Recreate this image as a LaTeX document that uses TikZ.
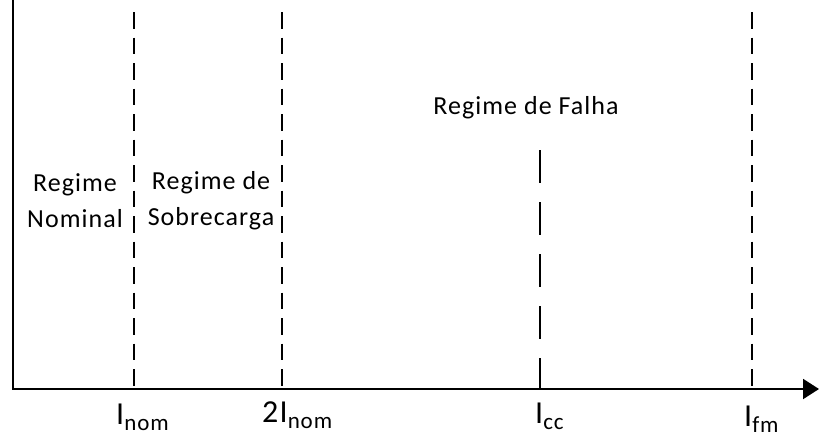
\documentclass[tikz,border=0pt]{standalone}
\usepackage{fontspec}
\setmainfont{Carlito}[LetterSpace=4]
\usetikzlibrary{arrows.meta}
\tikzset{
  eixo/.style={line width=2pt},
  limite/.style={line width=2pt,dash pattern=on 16.5pt off 9pt},
  limitecc/.style={line width=2pt,dash pattern=on 33pt off 19pt},
  regime/.style={align=center,inner sep=0pt,font=\fontsize{26}{36}\selectfont},
  corrente/.style={anchor=base west,inner sep=0pt,font=\fontsize{32}{32}\selectfont}
}
\newcommand{\corr}[2]{#1\raisebox{-6pt}{\fontsize{23}{23}\selectfont #2}}

\begin{document}
\begin{tikzpicture}[x=1pt,y=-1pt]
  \useasboundingbox (0,0) rectangle (819,437);
  % eixos
  \coordinate (Topo) at (13,0);
  \coordinate (Origem) at (13,389);
  \coordinate (Fim) at (819,389);
  \draw[eixo,-{Triangle[length=16pt,width=20pt]}] (Topo) -- (Origem) -- (Fim);
  % limites entre regimes
  \coordinate (NomTopo) at (134,12);
  \coordinate (NomBase) at (134,389);
  \coordinate (DoisTopo) at (282,12);
  \coordinate (DoisBase) at (282,389);
  \coordinate (CcTopo) at (540,150);
  \coordinate (CcBase) at (540,389);
  \coordinate (FmTopo) at (752,12);
  \coordinate (FmBase) at (752,389);
  \draw[limite] (NomTopo) -- (NomBase);
  \draw[limite] (DoisTopo) -- (DoisBase);
  \draw[limitecc] (CcTopo) -- (CcBase);
  \draw[limite] (FmTopo) -- (FmBase);
  % regimes
  \node[regime] (Nominal) at (75,201) {Regime\\Nominal};
  \node[regime] (Sobrecarga) at (211,201) {Regime de\\Sobrecarga};
  \node[regime,anchor=base] (Falha) at (526,114) {Regime de Falha};
  % correntes
  \node[corrente] (Inom) at (116,424) {\corr{I}{nom}};
  \node[corrente] (DoisInom) at (262,422) {\corr{2I}{nom}};
  \node[corrente] (Icc) at (535,423) {\corr{I}{cc}};
  \node[corrente] (Ifm) at (744,426) {\corr{I}{fm}};
\end{tikzpicture}
\end{document}
